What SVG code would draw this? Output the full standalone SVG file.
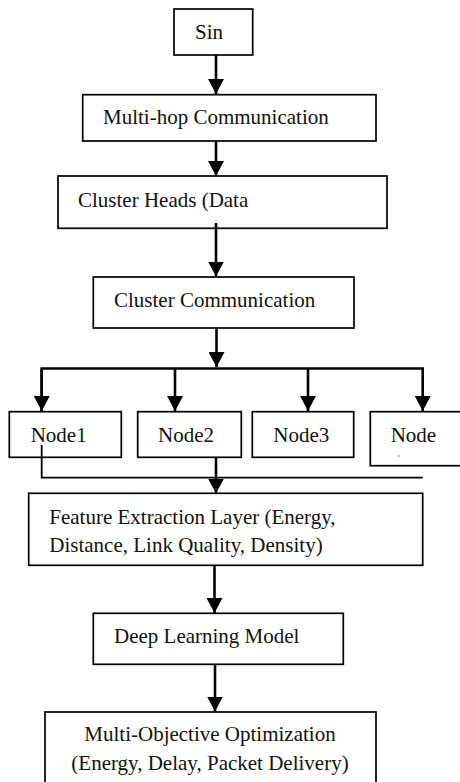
<svg xmlns="http://www.w3.org/2000/svg" width="460" height="782" viewBox="0 0 460 782">
  <style>
    .box { fill: #ffffff; stroke: #000000; stroke-width: 1.7; }
    .lbl { font-family: "Liberation Serif", "Times New Roman", serif; font-size: 21px; fill: #111111; }
    .wire { fill: none; stroke: #000000; stroke-width: 2.6; }
    .thin { fill: none; stroke: #000000; stroke-width: 1.8; }
  </style>
  <defs>
    <marker id="arrow" markerUnits="userSpaceOnUse" markerWidth="16" markerHeight="16" viewBox="0 0 16 16" refX="15" refY="8" orient="auto">
      <path d="M0,0 L15,8 L0,16 Z" fill="#000000"/>
    </marker>
  </defs>
  <rect width="460" height="782" fill="#ffffff"/>

  <g id="sink">
    <rect class="box" x="174" y="9" width="78.7" height="46"/>
    <text class="lbl" x="195" y="38.5">Sin</text>
  </g>

  <g id="multihop">
    <rect class="box" x="82.7" y="94.7" width="293.3" height="46.3"/>
    <text class="lbl" x="103" y="124">Multi-hop Communication</text>
  </g>

  <g id="cluster-heads">
    <rect class="box" x="58" y="176" width="329" height="52.3"/>
    <text class="lbl" x="78" y="206.5">Cluster Heads (Data</text>
  </g>

  <g id="cluster-comm">
    <rect class="box" x="93.3" y="277" width="260.7" height="51"/>
    <text class="lbl" x="114" y="306.5">Cluster Communication</text>
  </g>

  <g id="node1">
    <rect class="box" x="9.3" y="411.7" width="112" height="45.6"/>
    <text class="lbl" x="30.7" y="442">Node1</text>
  </g>

  <g id="node2">
    <rect class="box" x="137.7" y="411.7" width="103.6" height="45.6"/>
    <text class="lbl" x="158" y="442">Node2</text>
  </g>

  <g id="node3">
    <rect class="box" x="252.3" y="411.7" width="101.4" height="45.6"/>
    <text class="lbl" x="273.3" y="442">Node3</text>
  </g>

  <g id="node4">
    <rect class="box" x="370.3" y="411.7" width="100" height="54"/>
    <text class="lbl" x="390.7" y="442">Node</text>
    <line x1="397.5" y1="456" x2="399.5" y2="456" stroke="#777777" stroke-width="1"/>
  </g>

  <g id="feature-extraction">
    <rect class="box" x="28.7" y="493.3" width="394" height="72"/>
    <text class="lbl" x="49.3" y="524">Feature Extraction Layer (Energy,</text>
    <text class="lbl" x="49.3" y="551.7">Distance, Link Quality, Density)</text>
  </g>

  <g id="deep-learning">
    <rect class="box" x="93.3" y="613.3" width="250" height="51"/>
    <text class="lbl" x="114" y="643.3">Deep Learning Model</text>
  </g>

  <g id="optimization">
    <rect class="box" x="45" y="712" width="331" height="80"/>
    <text class="lbl" x="210" y="741" text-anchor="middle">Multi-Objective Optimization</text>
    <text class="lbl" x="210" y="770" text-anchor="middle">(Energy, Delay, Packet Delivery)</text>
  </g>

  <!-- connectors, drawn last so they run over box edges -->
  <g id="connectors">
    <line class="wire" x1="216" y1="55" x2="216" y2="94" marker-end="url(#arrow)"/>
    <line class="wire" x1="216" y1="141" x2="216" y2="176" marker-end="url(#arrow)"/>
    <line class="wire" x1="216" y1="223" x2="216" y2="276.5" marker-end="url(#arrow)"/>
    <line class="wire" x1="216.5" y1="328" x2="216.5" y2="367" marker-end="url(#arrow)"/>
    <!-- fan-out bar to the nodes -->
    <polyline class="wire" points="41.7,411 41.7,368.5 422.7,368.5 422.7,411" marker-end="url(#arrow)"/>
    <line class="wire" x1="41.7" y1="368.5" x2="41.7" y2="411" marker-end="url(#arrow)"/>
    <line class="wire" x1="175" y1="368.5" x2="175" y2="411" marker-end="url(#arrow)"/>
    <line class="wire" x1="308" y1="368.5" x2="308" y2="411" marker-end="url(#arrow)"/>
    <!-- collector bar below the nodes -->
    <polyline class="thin" points="41.7,445 41.7,477.7 422.7,477.7"/>
    <line class="wire" x1="216" y1="457" x2="216" y2="493.5" marker-end="url(#arrow)"/>
    <line class="wire" x1="214.5" y1="565" x2="214.5" y2="613" marker-end="url(#arrow)"/>
    <line class="wire" x1="215" y1="664" x2="215" y2="711.5" marker-end="url(#arrow)"/>
  </g>
</svg>
